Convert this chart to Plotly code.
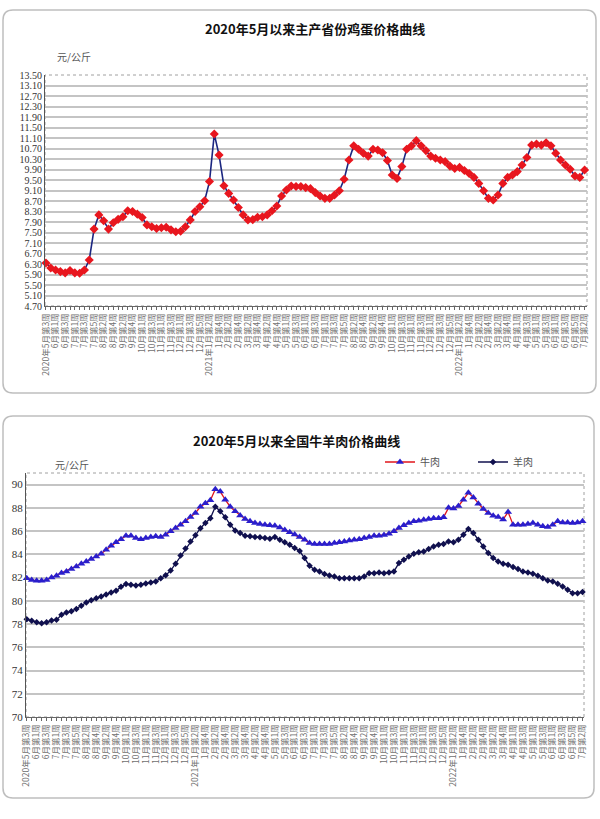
import plotly.graph_objects as go

# ---------------- categories (weekly) ----------------
weeks = [
    "2020年5月第3周", "2020年5月第4周",
    "2020年6月第1周", "2020年6月第2周", "2020年6月第3周", "2020年6月第4周",
    "2020年7月第1周", "2020年7月第2周", "2020年7月第3周", "2020年7月第4周", "2020年7月第5周",
    "2020年8月第1周", "2020年8月第2周", "2020年8月第3周", "2020年8月第4周",
    "2020年9月第1周", "2020年9月第2周", "2020年9月第3周", "2020年9月第4周", "2020年9月第5周",
    "2020年10月第1周", "2020年10月第2周", "2020年10月第3周", "2020年10月第4周",
    "2020年11月第1周", "2020年11月第2周", "2020年11月第3周", "2020年11月第4周",
    "2020年12月第1周", "2020年12月第2周", "2020年12月第3周", "2020年12月第4周", "2020年12月第5周",
    "2021年1月第1周", "2021年1月第2周", "2021年1月第3周", "2021年1月第4周",
    "2021年2月第1周", "2021年2月第2周", "2021年2月第3周", "2021年2月第4周",
    "2021年3月第1周", "2021年3月第2周", "2021年3月第3周", "2021年3月第4周",
    "2021年4月第1周", "2021年4月第2周", "2021年4月第3周", "2021年4月第4周", "2021年4月第5周",
    "2021年5月第1周", "2021年5月第2周", "2021年5月第3周", "2021年5月第4周",
    "2021年6月第1周", "2021年6月第2周", "2021年6月第3周", "2021年6月第4周",
    "2021年7月第1周", "2021年7月第2周", "2021年7月第3周", "2021年7月第4周", "2021年7月第5周",
    "2021年8月第1周", "2021年8月第2周", "2021年8月第3周", "2021年8月第4周",
    "2021年9月第1周", "2021年9月第2周", "2021年9月第3周", "2021年9月第4周", "2021年9月第5周",
    "2021年10月第1周", "2021年10月第2周", "2021年10月第3周", "2021年10月第4周",
    "2021年11月第1周", "2021年11月第2周", "2021年11月第3周", "2021年11月第4周",
    "2021年12月第1周", "2021年12月第2周", "2021年12月第3周", "2021年12月第4周", "2021年12月第5周",
    "2022年1月第1周", "2022年1月第2周", "2022年1月第3周", "2022年1月第4周",
    "2022年2月第1周", "2022年2月第2周", "2022年2月第3周", "2022年2月第4周",
    "2022年3月第1周", "2022年3月第2周", "2022年3月第3周", "2022年3月第4周", "2022年3月第5周",
    "2022年4月第1周", "2022年4月第2周", "2022年4月第3周", "2022年4月第4周",
    "2022年5月第1周", "2022年5月第2周", "2022年5月第3周", "2022年5月第4周",
    "2022年6月第1周", "2022年6月第2周", "2022年6月第3周", "2022年6月第4周", "2022年6月第5周",
    "2022年7月第1周", "2022年7月第2周",
]

# tick labels shown (every other week)
tick_labels = [
    "2020年5月第3周", "6月第1周", "6月第3周", "7月第1周", "7月第3周", "7月第5周", "8月第2周",
    "8月第4周", "9月第2周", "9月第4周", "10月第1周", "10月第3周", "11月第1周", "11月第3周",
    "12月第1周", "12月第3周", "12月第5周",
    "2021年1月第2周", "1月第4周", "2月第2周", "2月第4周", "3月第2周", "3月第4周", "4月第2周",
    "4月第4周", "5月第1周", "5月第3周", "6月第1周", "6月第3周", "7月第1周", "7月第3周",
    "7月第5周", "8月第2周", "8月第4周", "9月第2周", "9月第4周", "10月第1周", "10月第3周",
    "11月第1周", "11月第3周", "12月第1周", "12月第3周", "12月第5周",
    "2022年1月第2周", "1月第4周", "2月第2周", "2月第4周", "3月第2周", "3月第4周", "4月第1周",
    "4月第3周", "5月第1周", "5月第3周", "6月第1周", "6月第3周", "6月第5周", "7月第2周",
]

# ---------------- series values ----------------
egg = [6.34, 6.15, 6.07, 6.01, 5.96, 6.05, 5.96, 5.95, 6.07, 6.45,
       7.63, 8.17, 7.95, 7.63, 7.87, 8.00, 8.10, 8.33, 8.30, 8.20,
       8.07, 7.79, 7.72, 7.65, 7.68, 7.70, 7.60, 7.53, 7.55, 7.72,
       7.98, 8.30, 8.48, 8.71, 9.44, 11.25, 10.45, 9.28, 8.99, 8.74,
       8.45, 8.17, 7.98, 7.99, 8.08, 8.10, 8.17, 8.33, 8.51, 8.89,
       9.12, 9.27, 9.25, 9.25, 9.21, 9.17, 9.02, 8.89, 8.80, 8.80,
       8.93, 9.09, 9.53, 10.26, 10.80, 10.67, 10.52, 10.41, 10.67, 10.64,
       10.54, 10.24, 9.69, 9.56, 10.01, 10.67, 10.80, 11.00, 10.80, 10.62,
       10.41, 10.33, 10.26, 10.20, 10.03, 9.94, 9.98, 9.86, 9.75, 9.60,
       9.37, 9.09, 8.80, 8.74, 8.93, 9.37, 9.60, 9.69, 9.82, 10.07,
       10.36, 10.83, 10.87, 10.83, 10.92, 10.80, 10.52, 10.26, 10.07, 9.91,
       9.65, 9.60, 9.88]

beef = [81.95, 81.80, 81.72, 81.72, 81.80, 82.00, 82.16, 82.40, 82.53, 82.73,
        82.96, 83.19, 83.39, 83.60, 83.82, 84.05, 84.40, 84.74, 85.03, 85.30,
        85.60, 85.60, 85.40, 85.30, 85.40, 85.49, 85.55, 85.49, 85.69, 85.98,
        86.26, 86.55, 86.84, 87.21, 87.56, 88.10, 88.40, 88.65, 89.60, 89.40,
        88.70, 88.10, 87.70, 87.35, 87.05, 86.85, 86.70, 86.60, 86.55, 86.50,
        86.45, 86.30, 86.10, 85.90, 85.70, 85.50, 85.25, 84.97, 84.88, 84.88,
        84.88, 84.90, 84.97, 85.03, 85.10, 85.20, 85.25, 85.30, 85.40, 85.49,
        85.60, 85.60, 85.66, 85.78, 85.98, 86.26, 86.50, 86.70, 86.84, 86.90,
        86.98, 87.04, 87.10, 87.10, 87.20, 88.00, 87.95, 88.15, 88.70, 89.30,
        88.90, 88.35, 87.90, 87.56, 87.33, 87.21, 87.00, 87.64, 86.55, 86.55,
        86.55, 86.60, 86.70, 86.55, 86.41, 86.35, 86.55, 86.84, 86.75, 86.75,
        86.70, 86.75, 86.84]

mutton = [78.42, 78.28, 78.15, 78.07, 78.15, 78.30, 78.36, 78.79, 78.99, 79.10,
          79.30, 79.57, 79.86, 80.05, 80.23, 80.37, 80.55, 80.72, 80.86, 81.20,
          81.45, 81.38, 81.32, 81.38, 81.50, 81.58, 81.67, 81.95, 82.20, 82.60,
          83.20, 83.90, 84.50, 85.10, 85.65, 86.25, 86.70, 87.10, 88.10, 87.70,
          87.20, 86.55, 86.06, 85.83, 85.60, 85.55, 85.49, 85.46, 85.40, 85.35,
          85.49, 85.26, 85.03, 84.83, 84.54, 84.28, 83.68, 83.02, 82.67, 82.53,
          82.30, 82.18, 82.10, 81.95, 81.95, 81.95, 81.95, 81.95, 82.10, 82.38,
          82.38, 82.44, 82.38, 82.44, 82.53, 83.25, 83.53, 83.82, 84.05, 84.17,
          84.25, 84.45, 84.68, 84.83, 84.88, 85.10, 85.03, 85.26, 85.69, 86.18,
          85.83, 85.26, 84.68, 84.11, 83.68, 83.39, 83.19, 83.10, 82.90, 82.73,
          82.53, 82.44, 82.33, 82.16, 81.95, 81.75, 81.67, 81.47, 81.24, 80.95,
          80.66, 80.66, 80.75]

title_egg = "2020年5月以来主产省份鸡蛋价格曲线"
title_meat = "2020年5月以来全国牛羊肉价格曲线"
unit = "元/公斤"

# ---------------- figure ----------------
W, H = 600, 819


def px(x):
    return x / W


def py(y):
    return 1 - y / H


# full tick text: label on every other week, blank otherwise
tick_text = []
it = iter(tick_labels)
for i in range(len(weeks)):
    tick_text.append(next(it) if i % 2 == 0 else "")

fig = go.Figure()
fig.add_trace(go.Scatter(
    x=weeks, y=egg, mode="lines+markers", showlegend=False,
    line=dict(color="#1B2680", width=1.6),
    marker=dict(symbol="diamond", size=7, color="#E8161E", line=dict(width=0)),
    xaxis="x", yaxis="y", cliponaxis=False,
))
fig.add_trace(go.Scatter(
    x=weeks, y=beef, mode="lines+markers", name="牛肉",
    line=dict(color="#E0141A", width=1.3),
    marker=dict(symbol="triangle-up", size=7, color="#2A1ECC", line=dict(width=0)),
    xaxis="x2", yaxis="y2", cliponaxis=False,
))
fig.add_trace(go.Scatter(
    x=weeks, y=mutton, mode="lines+markers", name="羊肉",
    line=dict(color="#10104E", width=1.3),
    marker=dict(symbol="diamond", size=5, color="#10104E", line=dict(width=0)),
    xaxis="x2", yaxis="y2", cliponaxis=False,
))

xcommon = dict(
    type="category", categoryorder="array", categoryarray=weeks,
    tickmode="array", tickvals=weeks, ticktext=tick_text,
    tickangle=-90, tickfont=dict(family="Noto Sans CJK SC", size=8.5, color="#707070"),
    ticks="outside", ticklen=3, tickwidth=1, tickcolor="#666666",
    showline=True, linecolor="#666666", linewidth=1,
    showgrid=False, zeroline=False, automargin=False, fixedrange=True,
)
ycommon = dict(
    showgrid=True, gridcolor="#C4C4C4", gridwidth=1.5,
    showline=True, linecolor="#555555", linewidth=1.2,
    ticks="", zeroline=False, automargin=False, fixedrange=True,
    tickfont=dict(family="Liberation Serif", size=11, color="#333333"),
)

# egg chart plot area (pixels): x 45..587, y 75..306
fig.update_layout(
    xaxis=dict(xcommon, domain=[px(45), px(587)], anchor="y", range=[-0.2, 112.5]),
    yaxis=dict(ycommon, domain=[py(306), py(75)], anchor="x", range=[4.70, 13.50],
               tick0=4.70, dtick=0.40, tickformat=".2f",
               tickfont=dict(family="Liberation Serif", size=10, color="#333333")),
    xaxis2=dict(xcommon, domain=[px(26), px(584)], anchor="y2", range=[-0.15, 112.3]),
    yaxis2=dict(ycommon, domain=[py(717), py(473)], anchor="x2", range=[70, 91],
                tick0=70, dtick=2),
)


def rounded(x0, y0, x1, y1, r):
    rx, ry = r / W, r / H
    X0, X1 = px(x0), px(x1)
    Y0, Y1 = py(y0), py(y1)  # Y0 top, Y1 bottom
    return (f"M {X0+rx},{Y0} L {X1-rx},{Y0} Q {X1},{Y0} {X1},{Y0-ry} "
            f"L {X1},{Y1+ry} Q {X1},{Y1} {X1-rx},{Y1} "
            f"L {X0+rx},{Y1} Q {X0},{Y1} {X0},{Y1+ry} "
            f"L {X0},{Y0-ry} Q {X0},{Y0} {X0+rx},{Y0} Z")


shapes = [
    dict(type="path", xref="paper", yref="paper", path=rounded(3, 10, 596, 393, 10),
         line=dict(color="#BEBEBE", width=1.5), layer="below"),
    dict(type="path", xref="paper", yref="paper", path=rounded(3, 416, 594, 798, 10),
         line=dict(color="#BEBEBE", width=1.5), layer="below"),
    # plot area borders (dotted)
    dict(type="rect", xref="paper", yref="paper", x0=px(45), x1=px(587), y0=py(306), y1=py(75),
         line=dict(color="#A0A0A0", width=1, dash="dot"), layer="below"),
    dict(type="rect", xref="paper", yref="paper", x0=px(26), x1=px(584), y0=py(717), y1=py(473),
         line=dict(color="#A0A0A0", width=1, dash="dot"), layer="below"),
]

annotations = [
    dict(text=f"<b>{title_egg}</b>", x=px(315), y=py(29), xref="paper", yref="paper",
         xanchor="center", yanchor="middle",
         showarrow=False, font=dict(family="Noto Sans CJK SC", size=13, color="#111111")),
    dict(text=unit, x=px(55), y=py(57), xref="paper", yref="paper", xanchor="left",
         yanchor="middle",
         showarrow=False, font=dict(family="Noto Sans CJK SC", size=10, color="#555555")),
    dict(text=f"<b>{title_meat}</b>", x=px(296), y=py(440), xref="paper", yref="paper",
         xanchor="center", yanchor="middle",
         showarrow=False, font=dict(family="Noto Sans CJK SC", size=13, color="#111111")),
    dict(text=unit, x=px(53), y=py(464), xref="paper", yref="paper", xanchor="left",
         yanchor="middle",
         showarrow=False, font=dict(family="Noto Sans CJK SC", size=10, color="#555555")),
]

fig.update_layout(
    width=W, height=H, margin=dict(l=0, r=0, t=0, b=0),
    paper_bgcolor="white", plot_bgcolor="rgba(0,0,0,0)",
    shapes=shapes, annotations=annotations,
    legend=dict(orientation="h", x=px(380), y=py(462), xanchor="left", yanchor="middle",
                font=dict(family="Noto Sans CJK SC", size=10, color="#555555"),
                entrywidth=48, entrywidthmode="pixels", bgcolor="rgba(0,0,0,0)",
                itemwidth=30, tracegroupgap=0),
    showlegend=True,
)

fig.write_html("out.html", config={"displayModeBar": False},
               post_script="document.body.style.margin='0px';")
